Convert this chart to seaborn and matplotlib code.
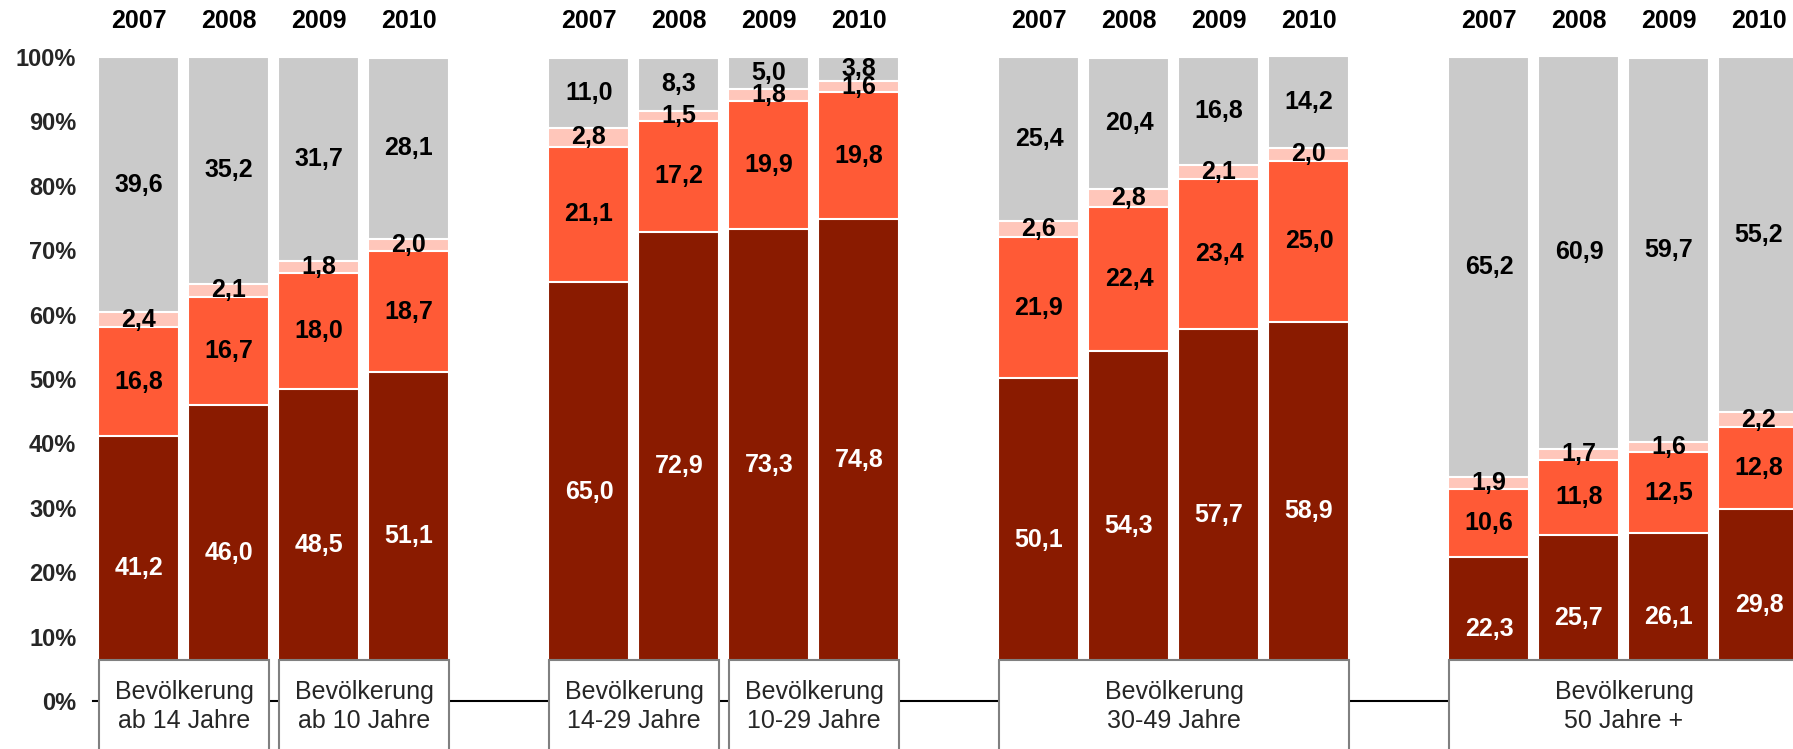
import numpy as np
import pandas as pd
import matplotlib
matplotlib.use("Agg")
import matplotlib.pyplot as plt
from matplotlib.patches import Rectangle
import seaborn as sns

# ---------------- data ----------------
years = ["2007", "2008", "2009", "2010"]
groups = ["G1", "G2", "G3", "G4"]

dark = [41.2, 46.0, 48.5, 51.1,
        65.0, 72.9, 73.3, 74.8,
        50.1, 54.3, 57.7, 58.9,
        22.3, 25.7, 26.1, 29.8]
orange = [16.8, 16.7, 18.0, 18.7,
          21.1, 17.2, 19.9, 19.8,
          21.9, 22.4, 23.4, 25.0,
          10.6, 11.8, 12.5, 12.8]
pink = [2.4, 2.1, 1.8, 2.0,
        2.8, 1.5, 1.8, 1.6,
        2.6, 2.8, 2.1, 2.0,
        1.9, 1.7, 1.6, 2.2]
gray = [39.6, 35.2, 31.7, 28.1,
        11.0, 8.3, 5.0, 3.8,
        25.4, 20.4, 16.8, 14.2,
        65.2, 60.9, 59.7, 55.2]

# box labels: (group index, first bar, last bar, text)
box_labels = [
    (0, 0, 1, "Bevölkerung\nab 14 Jahre"),
    (0, 2, 3, "Bevölkerung\nab 10 Jahre"),
    (1, 0, 1, "Bevölkerung\n14-29 Jahre"),
    (1, 2, 3, "Bevölkerung\n10-29 Jahre"),
    (2, 0, 3, "Bevölkerung\n30-49 Jahre"),
    (3, 0, 3, "Bevölkerung\n50 Jahre +"),
]
yticks = [0, 10, 20, 30, 40, 50, 60, 70, 80, 90, 100]
ytick_labels = ["0%", "10%", "20%", "30%", "40%", "50%", "60%", "70%", "80%", "90%", "100%"]

colors = {"dark": "#8A1B00", "orange": "#FF5A36", "pink": "#FFC6BA", "gray": "#CACACA"}

# ---------------- layout ----------------
sns.set_style("white")
plt.rcParams["font.family"] = ["Liberation Sans", "DejaVu Sans"]

W, H = 1793, 749
fig = plt.figure(figsize=(W / 100, H / 100), dpi=100)
ax = fig.add_axes([93 / W, 48 / H, 1700 / W, 644 / H])

n_g, n_y = len(groups), len(years)
pos = np.array([g * (n_y + 1) + i for g in range(n_g) for i in range(n_y)], dtype=float)
bw = 0.9

df = pd.DataFrame({"pos": pos, "dark": dark, "orange": orange, "pink": pink, "gray": gray})
df["c1"] = df["dark"]
df["c2"] = df["c1"] + df["orange"]
df["c3"] = df["c2"] + df["pink"]
df["c4"] = df["c3"] + df["gray"]

for col, key in [("c4", "gray"), ("c3", "pink"), ("c2", "orange"), ("c1", "dark")]:
    sns.barplot(data=df, x="pos", y=col, native_scale=True, width=bw,
                color=colors[key], saturation=1, errorbar=None,
                edgecolor="white", linewidth=1.5, ax=ax, zorder=2)

# value labels
def fmt(v):
    return f"{v:.1f}".replace(".", ",")

for _, r in df.iterrows():
    segs = [("dark", 0, r["c1"]), ("orange", r["c1"], r["c2"]),
            ("pink", r["c2"], r["c3"]), ("gray", r["c3"], r["c4"])]
    for key, lo, hi in segs:
        ax.text(r["pos"], (lo + hi) / 2, fmt(r[key]), ha="center", va="center",
                fontsize=18, fontweight="bold",
                color="white" if key == "dark" else "black", zorder=4)
    ax.text(r["pos"], 105.6, years[int(r["pos"]) % (n_y + 1)], ha="center", va="center",
            fontsize=18, fontweight="bold", color="black", clip_on=False)

# category boxes
for g, a, b, txt in box_labels:
    x0 = g * (n_y + 1) + a - bw / 2 + 0.005
    x1 = g * (n_y + 1) + b + bw / 2 - 0.005
    ax.add_patch(Rectangle((x0, -20), x1 - x0, 26.35, facecolor="white",
                           edgecolor="#808080", linewidth=1.5, zorder=6, clip_on=False))
    ax.text((x0 + x1) / 2, -0.9, txt, ha="center", va="center", fontsize=18,
            linespacing=1.25, zorder=7, clip_on=False)

ax.set_xlim(-0.511, 18.378)
ax.set_ylim(0, 100)
ax.set_xlabel("")
ax.set_ylabel("")
ax.set_xticks([])
ax.set_yticks(yticks)
ax.set_yticklabels(ytick_labels, fontsize=17, fontweight="bold")
ax.tick_params(axis="y", length=0, pad=12)
for s in ["top", "right", "left"]:
    ax.spines[s].set_visible(False)
ax.spines["bottom"].set_color("black")
ax.spines["bottom"].set_linewidth(1.5)
ax.spines["bottom"].set_zorder(3)

fig.savefig("out.png", dpi=100)
